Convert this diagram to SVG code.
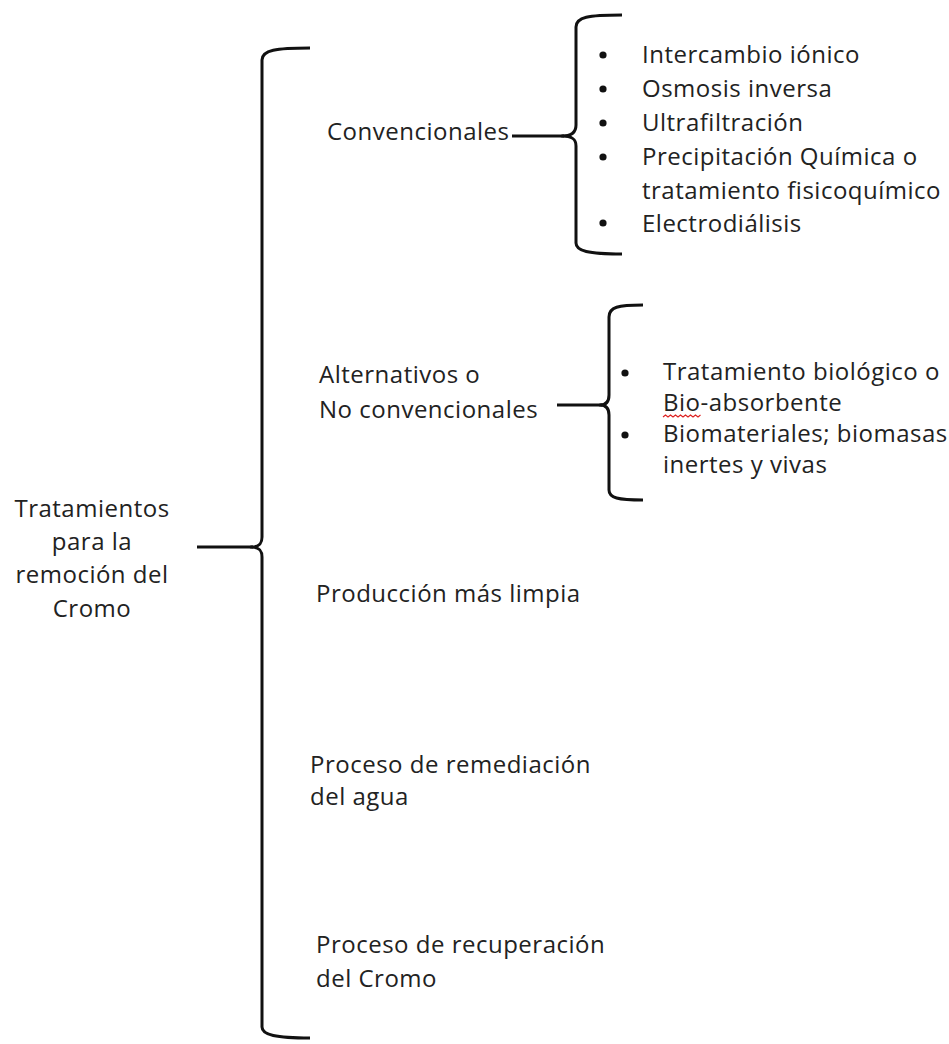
<svg xmlns="http://www.w3.org/2000/svg" width="949" height="1044" viewBox="0 0 949 1044">
<style>
text{font-family:"Open Sans","Liberation Sans",sans-serif;font-size:24px;fill:#222;letter-spacing:0.5px}
.b{fill:none;stroke:#111;stroke-width:3;stroke-linecap:butt;stroke-linejoin:round}
.dot{fill:#111}
.mid{text-anchor:middle}
</style>
<rect width="949" height="1044" fill="#fff"/>
<g id="connectors">
<path class="b" d="M310,48 C276,48 262,50 262,60 L262,537 C262,544 259,547 251,547 C259,547 262,550 262,557 L262,1027 C262,1035 276,1038 310,1038"/>
<line class="b" x1="197" y1="547" x2="253" y2="547"/>
<path class="b" d="M622,15 C588,15 576,17 576,27 L576,125 C576,132 572,136 562,136 C572,136 576,139 576,146 L576,243 C576,251 588,254 622,254"/>
<line class="b" x1="512" y1="136" x2="564" y2="136"/>
<path class="b" d="M643,305 C618,305 609,307 609,317 L609,395 C609,402 606,405 600,405 C606,405 609,408 609,415 L609,490 C609,498 618,500 643,500"/>
<line class="b" x1="557" y1="405" x2="602" y2="405"/>
</g>
<g id="root">
<text class="mid" x="92" y="517">Tratamientos</text>
<text class="mid" x="92" y="550">para la</text>
<text class="mid" x="92" y="583">remoción del</text>
<text class="mid" x="92" y="617">Cromo</text>
</g>
<g id="convencionales">
<text x="327" y="140">Convencionales</text>
</g>
<g id="lista-convencionales">
<circle class="dot" cx="603" cy="55" r="3.6"/>
<circle class="dot" cx="603" cy="89" r="3.6"/>
<circle class="dot" cx="603" cy="123" r="3.6"/>
<circle class="dot" cx="603" cy="157" r="3.6"/>
<circle class="dot" cx="603" cy="223" r="3.6"/>
<text x="642" y="63">Intercambio iónico</text>
<text x="642" y="97">Osmosis inversa</text>
<text x="642" y="131"> Ultrafiltración</text>
<text x="642" y="165">Precipitación Química o</text>
<text x="642" y="199">tratamiento fisicoquímico</text>
<text x="642" y="232">Electrodiálisis</text>
</g>
<g id="alternativos">
<text x="319" y="383">Alternativos o</text>
<text x="319" y="418">No convencionales</text>
</g>
<g id="lista-alternativos">
<circle class="dot" cx="625" cy="373" r="3.6"/>
<circle class="dot" cx="625" cy="435" r="3.6"/>
<text x="663" y="380">Tratamiento biológico o</text>
<text x="663" y="411">Bio-absorbente</text>
<text x="663" y="442">Biomateriales; biomasas</text>
<text x="663" y="473">inertes y vivas</text>
<path d="M663,417 l2.5,-2 l2.5,2 l2.5,-2 l2.5,2 l2.5,-2 l2.5,2 l2.5,-2 l2.5,2 l2.5,-2 l2.5,2 l2.5,-2 l2.5,2 l2.5,-2 l2.5,2 l2.5,-2" fill="none" stroke="#d22" stroke-width="1.2"/>
</g>
<g id="produccion">
<text x="316" y="602">Producción más limpia</text>
</g>
<g id="remediacion">
<text x="310" y="773">Proceso de remediación</text>
<text x="310" y="805">del agua</text>
</g>
<g id="recuperacion">
<text x="316" y="953">Proceso de recuperación</text>
<text x="316" y="987">del Cromo</text>
</g>
</svg>
